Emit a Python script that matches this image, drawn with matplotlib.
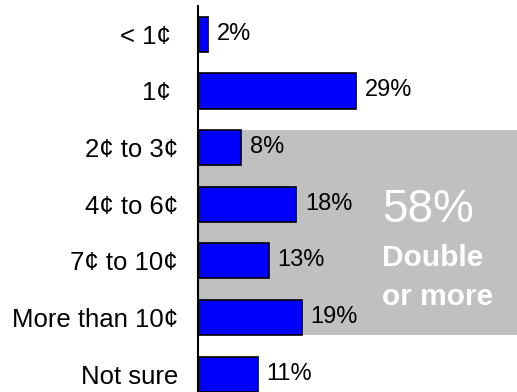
import matplotlib
matplotlib.use("Agg")
import matplotlib.pyplot as plt
from matplotlib.patches import Rectangle

plt.rcParams['font.family'] = ['Liberation Sans', 'DejaVu Sans']

categories = ["< 1¢ ", "1¢ ", "2¢ to 3¢", "4¢ to 6¢", "7¢ to 10¢", "More than 10¢", "Not sure"]
values = [2, 29, 8, 18, 13, 19, 11]
value_labels = ["2%", "29%", "8%", "18%", "13%", "19%", "11%"]
highlight_first, highlight_last = 2, 5
highlight_pct = "58%"
highlight_text = ["Double", "or more"]

W, H = 517, 392
fig = plt.figure(figsize=(W / 100, H / 100), dpi=100)
ax_left = 197.5 / W
ax_top = 1 - 6 / H
ax = fig.add_axes([ax_left, 0, 1 - ax_left, ax_top])

bar_h = 0.62
xmax = (W - 197.5) / 5.48
ax.set_xlim(0, xmax)
ax.set_ylim(6.316, -0.5)

# shaded band behind the "double or more" group
top = highlight_first - bar_h / 2
bottom = highlight_last + bar_h / 2
ax.add_patch(Rectangle((0, top), xmax, bottom - top, facecolor="#C0C0C0",
                       edgecolor="none", zorder=0))

ypos = list(range(len(categories)))
ax.barh(ypos, values, height=bar_h, color="#0000FF", edgecolor="black",
        linewidth=1.2, zorder=2)

for y, v, lab in zip(ypos, values, value_labels):
    ax.text(v + 1.6, y - 0.01, lab, ha="left", va="center", fontsize=17,
            color="black", zorder=3)

ax.text(33.7, 3.10, highlight_pct, ha="left", va="center", fontsize=33,
        color="white", zorder=3)
ax.text(33.7, 3.95, highlight_text[0], ha="left", va="center", fontsize=21.5,
        fontweight="bold", color="white", zorder=3)
ax.text(33.7, 4.64, highlight_text[1], ha="left", va="center", fontsize=21.5,
        fontweight="bold", color="white", zorder=3)

ax.set_yticks(ypos)
ax.set_yticklabels(categories, fontsize=18.5)
ax.tick_params(axis="y", length=0, pad=14)
ax.set_xticks([])
for side in ("top", "right", "bottom"):
    ax.spines[side].set_visible(False)
ax.spines["left"].set_linewidth(1.5)
ax.spines["left"].set_zorder(4)
ax.patch.set_alpha(0)

fig.savefig("out.png", dpi=100)
